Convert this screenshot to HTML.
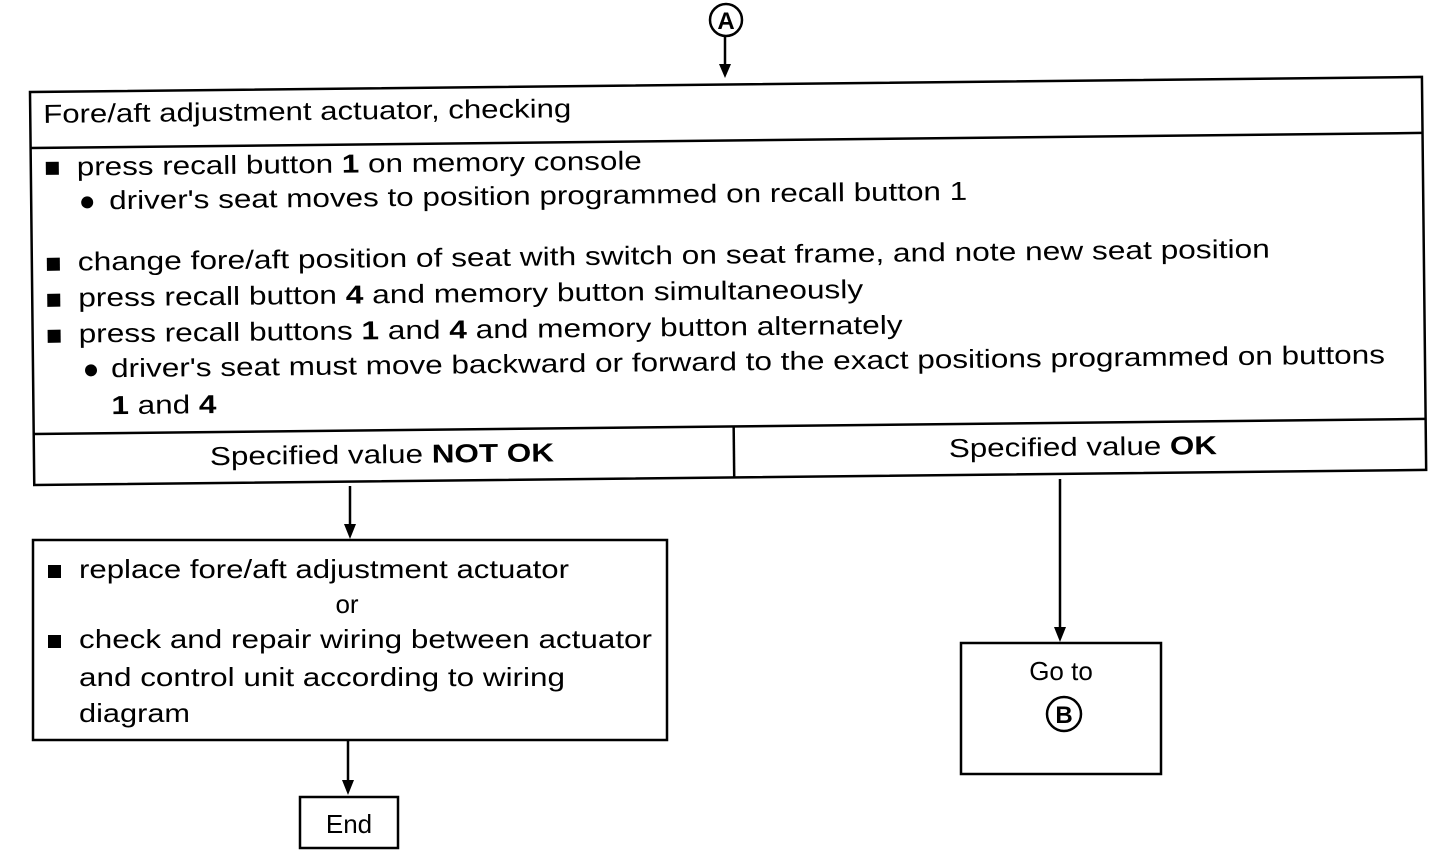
<!DOCTYPE html>
<html><head><meta charset="utf-8"><style>
html,body{margin:0;padding:0;background:#fff;}
svg{display:block;}
text{font-family:"Liberation Sans",Arial,sans-serif;font-size:26px;fill:#000;}
</style></head><body>
<svg width="1440" height="852" viewBox="0 0 1440 852" xmlns="http://www.w3.org/2000/svg">
<defs><marker id="ah" markerWidth="10" markerHeight="12" refX="5" refY="12" orient="auto" markerUnits="userSpaceOnUse"><path d="M0,0 L10,0 L5,12 Z" fill="#000" transform="rotate(-90 5 6)"/></marker></defs>
<!-- A circle -->
<circle cx="726" cy="20" r="16" fill="none" stroke="#000" stroke-width="2.5"/>
<text x="726" y="29" text-anchor="middle" font-weight="bold" style="font-size:24px">A</text>
<line x1="725" y1="36" x2="725" y2="66" stroke="#000" stroke-width="2.5"/>
<path d="M719,64 L731,64 L725,78 Z"/>
<g transform="rotate(-0.62 30 92)" stroke-width="2.5">
<rect x="30" y="92" width="1392" height="393" fill="none" stroke="#000"/>
<line x1="30" y1="148" x2="1422" y2="148" stroke="#000"/>
<line x1="30" y1="434" x2="1422" y2="434" stroke="#000"/>
<line x1="730" y1="434" x2="730" y2="485" stroke="#000"/>
<text x="43" y="123" textLength="528" lengthAdjust="spacingAndGlyphs">Fore/aft adjustment actuator, checking</text>
<rect x="45" y="162" width="13" height="13"/>
<text x="76" y="176" textLength="565" lengthAdjust="spacingAndGlyphs">press recall button <tspan font-weight="bold">1</tspan> on memory console</text>
<circle cx="86" cy="203" r="6"/>
<text x="108" y="210" textLength="858" lengthAdjust="spacingAndGlyphs">driver's seat moves to position programmed on recall button 1</text>
<rect x="45" y="258" width="13" height="13"/>
<text x="76" y="271" textLength="1192" lengthAdjust="spacingAndGlyphs">change fore/aft position of seat with switch on seat frame, and note new seat position</text>
<rect x="45" y="294" width="13" height="13"/>
<text x="76" y="307" textLength="785" lengthAdjust="spacingAndGlyphs">press recall button <tspan font-weight="bold">4</tspan> and memory button simultaneously</text>
<rect x="45" y="330" width="13" height="13"/>
<text x="76" y="343" textLength="824" lengthAdjust="spacingAndGlyphs">press recall buttons <tspan font-weight="bold">1</tspan> and <tspan font-weight="bold">4</tspan> and memory button alternately</text>
<circle cx="88" cy="371" r="6"/>
<text x="108" y="378" textLength="1274" lengthAdjust="spacingAndGlyphs">driver's seat must move backward or forward to the exact positions programmed on buttons</text>
<text x="108" y="415" textLength="105" lengthAdjust="spacingAndGlyphs"><tspan font-weight="bold">1</tspan> and <tspan font-weight="bold">4</tspan></text>
<text x="206" y="467" textLength="344" lengthAdjust="spacingAndGlyphs">Specified value <tspan font-weight="bold">NOT OK</tspan></text>
<text x="945" y="467" textLength="268" lengthAdjust="spacingAndGlyphs">Specified value <tspan font-weight="bold">OK</tspan></text>
</g>
<!-- arrows -->
<line x1="350" y1="486" x2="350" y2="526" stroke="#000" stroke-width="2.5"/>
<path d="M344,524 L356,524 L350,539 Z"/>
<line x1="1060" y1="479" x2="1060" y2="629" stroke="#000" stroke-width="2.5"/>
<path d="M1054,627 L1066,627 L1060,642 Z"/>
<!-- left box -->
<rect x="33" y="540" width="634" height="200" fill="none" stroke="#000" stroke-width="2.5"/>
<rect x="48" y="565" width="13" height="13"/>
<text x="79" y="578" textLength="490" lengthAdjust="spacingAndGlyphs">replace fore/aft adjustment actuator</text>
<text x="347" y="613" text-anchor="middle">or</text>
<rect x="48" y="635" width="13" height="13"/>
<text x="79" y="648" textLength="573" lengthAdjust="spacingAndGlyphs">check and repair wiring between actuator</text>
<text x="79" y="686" textLength="486" lengthAdjust="spacingAndGlyphs">and control unit according to wiring</text>
<text x="79" y="722" textLength="111" lengthAdjust="spacingAndGlyphs">diagram</text>
<line x1="348" y1="740" x2="348" y2="782" stroke="#000" stroke-width="2.5"/>
<path d="M342,780 L354,780 L348,795 Z"/>
<rect x="300" y="797" width="98" height="51" fill="none" stroke="#000" stroke-width="2.5"/>
<text x="349" y="833" text-anchor="middle">End</text>
<!-- go to box -->
<rect x="961" y="643" width="200" height="131" fill="none" stroke="#000" stroke-width="2.5"/>
<text x="1061" y="680" text-anchor="middle">Go to</text>
<circle cx="1064" cy="714" r="17" fill="none" stroke="#000" stroke-width="2.5"/>
<text x="1064" y="723" text-anchor="middle" font-weight="bold" style="font-size:24px">B</text>
</svg>
</body></html>
